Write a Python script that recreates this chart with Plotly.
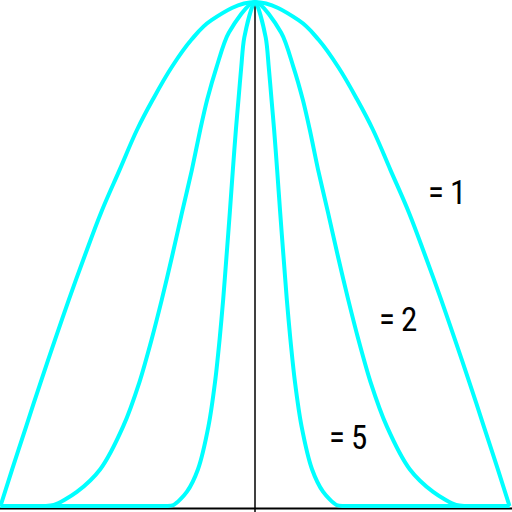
import plotly.graph_objects as go

# Right half of each (symmetric) curve
u_n1 = [0, 0.171, 0.250, 0.327, 0.402, 0.463, 0.532, 0.605, 0.670, 0.731, 0.785, 0.842, 0.899, 0.954, 1.0]
v_n1 = [1, 0.964, 0.925, 0.871, 0.806, 0.747, 0.667, 0.582, 0.495, 0.410, 0.331, 0.246, 0.158, 0.073, 0]

u_n2 = [0, 0.103, 0.151, 0.188, 0.215, 0.248, 0.287, 0.326, 0.366, 0.406, 0.454, 0.518, 0.608, 0.700, 0.790, 0.830, 0.900, 1.0]
v_n2 = [1, 0.939, 0.871, 0.806, 0.747, 0.667, 0.582, 0.495, 0.410, 0.331, 0.246, 0.158, 0.073, 0.028, 0.002, 0, 0, 0]

u_n5 = [0, 0.042, 0.054, 0.065, 0.075, 0.087, 0.099, 0.112, 0.125, 0.139, 0.157, 0.183, 0.224, 0.268, 0.320, 0.350, 0.420, 1.0]
v_n5 = [1, 0.930, 0.871, 0.806, 0.747, 0.667, 0.582, 0.495, 0.410, 0.331, 0.246, 0.158, 0.073, 0.028, 0.002, 0, 0, 0]

labels = ["=\u20091", "=\u20092", "=\u20095"]
label_x = [0.755, 0.56, 0.365]
label_y = [0.622, 0.37, 0.135]

fig = go.Figure()
for (u, v), sm in [((u_n1, v_n1), 1.1), ((u_n2, v_n2), 0.8), ((u_n5, v_n5), 0.8)]:
    xs = [-a for a in reversed(u[1:])] + u
    ys = list(reversed(v[1:])) + v
    fig.add_trace(go.Scatter(x=xs, y=ys, mode="lines",
                             line=dict(color="#00FFFF", width=4, shape="spline", smoothing=sm),
                             hoverinfo="skip"))

for t, x, y in zip(labels, label_x, label_y):
    fig.add_annotation(x=x, y=y, xref="x", yref="y", text=t, showarrow=False,
                       font=dict(family="Liberation Sans Narrow, Roboto Condensed, Arial Narrow, sans-serif",
                                 size=33, color="black"),
                       xanchor="center", yanchor="middle")

fig.add_shape(type="line", xref="paper", yref="y", x0=0, x1=1, y0=-0.005, y1=-0.005,
              line=dict(color="black", width=2), layer="below")
fig.add_shape(type="line", xref="x", yref="paper", x0=0, x1=0, y0=0, y1=1,
              line=dict(color="black", width=1.5), layer="below")

fig.update_layout(
    width=512, height=512,
    margin=dict(l=0, r=0, t=0, b=0),
    paper_bgcolor="white", plot_bgcolor="white",
    showlegend=False,
    xaxis=dict(range=[-1.00196, 1.00983], visible=False, fixedrange=True),
    yaxis=dict(range=[-0.0119, 1.00397], visible=False, fixedrange=True),
)
fig.write_html("out.html", config={"displayModeBar": False, "staticPlot": True},
               post_script="document.body.style.margin='0';document.body.style.overflow='hidden';")
